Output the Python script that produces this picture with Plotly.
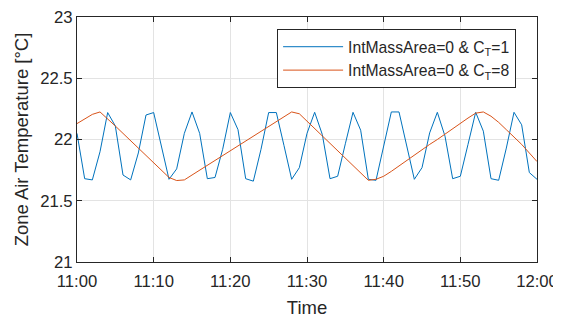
import plotly.graph_objects as go
import pandas as pd

# minutes after 11:00
minutes = list(range(0, 61))

temp_ct1 = [22.05, 21.68, 21.67, 21.90, 22.22, 22.11, 21.71, 21.67, 21.89, 22.20,
            22.22, 21.95, 21.675, 21.76, 22.05, 22.225, 22.05, 21.68, 21.69, 21.92,
            22.22, 22.08, 21.68, 21.66, 21.92, 22.22, 22.22, 21.95, 21.675, 21.77,
            22.05, 22.222, 22.04, 21.68, 21.70, 21.965, 22.222, 22.076, 21.675, 21.667,
            21.96, 22.225, 22.225, 21.95, 21.675, 21.77, 22.054, 22.222, 22.027, 21.68,
            21.70, 21.96, 22.222, 22.068, 21.68, 21.667, 21.93, 22.222, 22.12, 21.73,
            21.675]

temp_ct8 = [22.13, 22.17, 22.205, 22.225, 22.17, 22.11, 22.05, 21.99, 21.93, 21.87,
            21.81, 21.75, 21.69, 21.665, 21.67, 21.71, 21.75, 21.79, 21.83, 21.87,
            21.91, 21.95, 21.99, 22.03, 22.07, 22.11, 22.15, 22.19, 22.225, 22.21,
            22.15, 22.09, 22.03, 21.97, 21.91, 21.85, 21.79, 21.73, 21.667, 21.675,
            21.70, 21.74, 21.785, 21.83, 21.87, 21.915, 21.96, 22.00, 22.045, 22.09,
            22.13, 22.175, 22.215, 22.225, 22.19, 22.14, 22.08, 22.02, 21.96, 21.89,
            21.82]

series_names = ["IntMassArea=0 & C<sub>T</sub>=1", "IntMassArea=0 & C<sub>T</sub>=8"]
series_colors = ["#0072BD", "#D95319"]

t0 = pd.Timestamp("2020-01-01 11:00")
times = [t0 + pd.Timedelta(minutes=m) for m in minutes]

fig = go.Figure()
for i, (name, vals, col) in enumerate(zip(series_names, [temp_ct1, temp_ct8], series_colors)):
    fig.add_trace(go.Scatter(x=times, y=vals, mode="lines", name=name,
                             legendgroup=f"g{i}",
                             line=dict(color=col, width=1)))

font_family = "Liberation Sans, Arial, sans-serif"
axis_color = "#262626"
grid_color = "#e3e3e3"

# the page body adds an 8px offset, so the figure is 8px smaller than the window
fig.update_layout(
    width=553, height=310,
    margin=dict(l=69, r=24, t=9, b=56),
    paper_bgcolor="white", plot_bgcolor="white",
    font=dict(family=font_family, size=16.7, color=axis_color),
    showlegend=True,
    legend=dict(x=0.435, y=0.951, xanchor="left", yanchor="top",
                bgcolor="white", bordercolor=axis_color, borderwidth=1,
                itemwidth=60, tracegroupgap=0,
                font=dict(size=15.7, color=axis_color)),
)
fig.update_xaxes(
    range=[t0, t0 + pd.Timedelta(minutes=60)],
    tickformat="%H:%M", dtick=600000,
    ticks="inside", ticklen=5, tickcolor=axis_color,
    showline=True, linecolor=axis_color, linewidth=1, mirror="ticks",
    showgrid=True, gridcolor=grid_color, zeroline=False,
    automargin=False, ticklabelstandoff=4, ticklabeloverflow="allow",
    title=dict(text="Time", font=dict(size=18.5), standoff=11),
    tickfont=dict(size=16.7),
)
fig.update_yaxes(
    range=[21, 23], dtick=0.5,
    ticks="inside", ticklen=5, tickcolor=axis_color,
    showline=True, linecolor=axis_color, linewidth=1, mirror="ticks",
    showgrid=True, gridcolor=grid_color, zeroline=False,
    automargin=False, ticklabeloverflow="allow",
    title=dict(text="Zone Air Temperature [°C]", font=dict(size=18.5), standoff=6),
    tickfont=dict(size=16.7),
)

fig.write_html("out.html")
